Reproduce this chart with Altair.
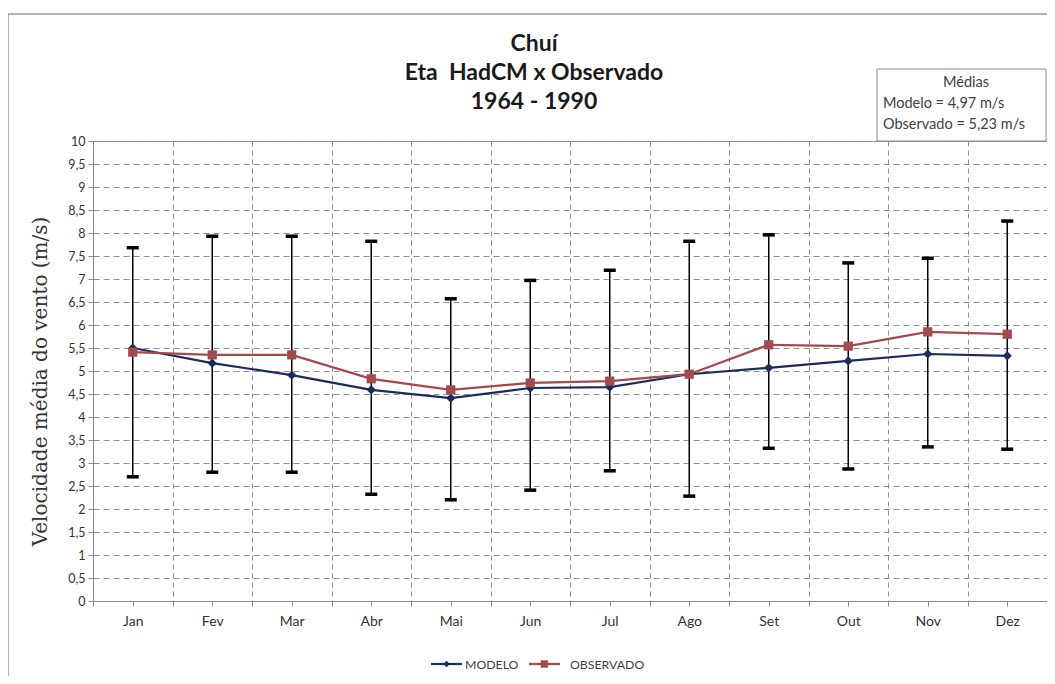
import altair as alt
import pandas as pd

# ---- data ----
meses = ["Jan", "Fev", "Mar", "Abr", "Mai", "Jun", "Jul", "Ago", "Set", "Out", "Nov", "Dez"]
modelo = [5.50, 5.17, 4.91, 4.59, 4.41, 4.63, 4.65, 4.93, 5.07, 5.22, 5.37, 5.33]
observado = [5.41, 5.35, 5.35, 4.83, 4.59, 4.74, 4.78, 4.93, 5.57, 5.54, 5.85, 5.80]
erro_min = [2.70, 2.80, 2.80, 2.32, 2.20, 2.41, 2.83, 2.28, 3.32, 2.87, 3.35, 3.30]
erro_max = [7.68, 7.93, 7.93, 7.82, 6.57, 6.97, 7.19, 7.82, 7.96, 7.35, 7.45, 8.26]
series = ["MODELO", "OBSERVADO"]
cores = ["#1C2B5E", "#A34A4C"]
formas = ["diamond", "square"]
titulo = ["Chuí", "Eta\u00a0 HadCM x Observado", "1964 - 1990"]
medias = ["Médias", "Modelo = 4,97 m/s", "Observado = 5,23 m/s"]
y_ticks = [i / 2 for i in range(21)]
x_ticks = [i / 2 - 0.5 for i in range(25)]

W, H = 954, 460
FONT = "Lato"

idx = list(range(len(meses)))
df = pd.DataFrame({"idx": idx, "mes": meses, "lo": erro_min, "hi": erro_max})
long = pd.DataFrame({
    "idx": idx * 2,
    "serie": [series[0]] * 12 + [series[1]] * 12,
    "valor": modelo + observado,
})
one = pd.DataFrame({"a": [0]})

labels_js = "[" + ",".join("'" + m + "'" for m in meses) + "]"
x_enc = alt.X(
    "idx:Q",
    scale=alt.Scale(domain=[-0.5, 11.5], nice=False, zero=False),
    axis=alt.Axis(
        values=x_ticks,
        labelExpr="datum.value % 1 == 0 ? " + labels_js + "[datum.value] : ''",
        grid=True,
        gridOpacity={"condition": {"test": "datum.value % 1 == 0", "value": 0}, "value": 1},
        gridDash=[5, 4],
        gridColor="#8f8f8f",
        gridWidth=1,
        tickSize=5,
        tickColor="#8a8a8a",
        domainColor="#8a8a8a",
        labelFont=FONT,
        labelFontSize=14,
        labelColor="#333333",
        labelPadding=8,
        labelOverlap=False,
        title=None,
    ),
)

y_scale = alt.Scale(domain=[0, 10], nice=False)
y_axis = alt.Axis(
    values=y_ticks,
    labelExpr="replace('' + datum.value, '.', ',')",
    grid=True,
    gridDash=[6, 4],
    gridColor="#8f8f8f",
    gridWidth=1,
    tickSize=5,
    tickColor="#8a8a8a",
    domainColor="#8a8a8a",
    labelFont=FONT,
    labelFontSize=12.5,
    labelColor="#333333",
    labelPadding=3,
    title="Velocidade média do vento (m/s)",
    titleFont="DejaVu Serif",
    titleFontSize=20,
    titleFontWeight="normal",
    titleColor="#333333",
    titleAngle=-90,
    titleX=-53,
    titleY=H / 2 + 10,
    titleAlign="center",
    titleBaseline="middle",
)


def y_enc(field):
    return alt.Y(field, scale=y_scale, axis=y_axis)


color_scale = alt.Scale(domain=series, range=cores)
c_enc = alt.Color("serie:N", scale=color_scale, legend=None)

# outer frame (annotation)
frame = alt.Chart(one).mark_rect(fillOpacity=0, stroke="#9a9a9a", strokeWidth=1.5).encode(
    x=alt.value(-85), x2=alt.value(1100), y=alt.value(-127), y2=alt.value(700)
)

# "Médias" box
box = alt.Chart(one).mark_rect(fill="white", stroke="#8a8a8a", strokeWidth=1).encode(
    x=alt.value(784), x2=alt.value(953), y=alt.value(-72), y2=alt.value(0)
)
box_t1 = alt.Chart(one).mark_text(font=FONT, fontSize=14.5, color="#404040", align="center", baseline="middle").encode(
    x=alt.value(873), y=alt.value(-58), text=alt.value(medias[0])
)
box_t2 = alt.Chart(one).mark_text(
    font=FONT, fontSize=14.5, color="#404040", align="left", baseline="middle", lineHeight=21
).encode(x=alt.value(790), y=alt.value(-37), text=alt.value(medias[1:]))

title = alt.Chart(one).mark_text(
    font=FONT, fontSize=23, fontWeight="bold", color="#1a1a1a", align="center", baseline="middle", lineHeight=29
).encode(x=alt.value(441), y=alt.value(-97), text=alt.value(titulo))

# error bars
err = alt.Chart(df).mark_rule(color="black", strokeWidth=1.5).encode(
    x=x_enc, y=y_enc("lo:Q"), y2="hi:Q"
)
caps = alt.Chart(df).transform_fold(["lo", "hi"], as_=["k", "v"]).mark_tick(
    color="black", orient="horizontal", thickness=3.5, size=12, opacity=1
).encode(x=x_enc, y=y_enc("v:Q"))

lines = alt.Chart(long).mark_line(strokeWidth=2.2).encode(
    x=x_enc, y=y_enc("valor:Q"), color=c_enc
)
pts = []
for s, shp in zip(series, formas):
    pts.append(
        alt.Chart(long).transform_filter(alt.datum.serie == s).mark_point(
            filled=True, shape=shp, size=85, opacity=1
        ).encode(x=x_enc, y=y_enc("valor:Q"), color=c_enc)
    )

# legend at the bottom (line + marker + label for each series)
legend_layers = []
for i, (s, shp, x0, tx) in enumerate(zip(series, formas, [338, 436], [34, 41])):
    d = pd.DataFrame({"serie": [s]})
    legend_layers.append(
        alt.Chart(d).mark_rule(strokeWidth=2.2).encode(
            x=alt.value(x0), x2=alt.value(x0 + 31), y=alt.value(523), color=c_enc
        )
    )
    legend_layers.append(
        alt.Chart(d).mark_point(filled=True, shape=shp, size=45 if i == 0 else 55, opacity=1).encode(
            x=alt.value(x0 + 15.5), y=alt.value(523), color=c_enc
        )
    )
    legend_layers.append(
        alt.Chart(d).mark_text(align="left", baseline="middle", font=FONT, fontSize=12.3, color="#404040").encode(
            x=alt.value(x0 + tx), y=alt.value(523.5), text="serie:N"
        )
    )

chart = alt.layer(
    frame, box, box_t1, box_t2, title, err, caps, lines, *pts, *legend_layers
).properties(
    width=W, height=H,
    autosize=alt.AutoSizeParams(type="none"),
    padding={"left": 85, "top": 133, "right": 0, "bottom": 75},
).configure(background="white").configure_view(stroke="#9a9a9a", strokeWidth=1)

chart.save("out.html", embed_options={"renderer": "svg", "actions": False})
